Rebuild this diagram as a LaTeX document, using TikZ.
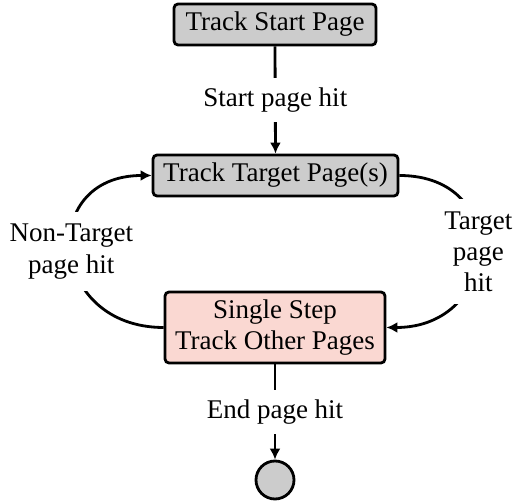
\documentclass[tikz,border=0pt]{standalone}
\usepackage{fontspec}
\setmainfont{Liberation Serif}
\usetikzlibrary{arrows.meta}
\definecolor{boxgray}{RGB}{204,204,204}
\definecolor{boxpink}{RGB}{250,216,210}
\begin{document}
\begin{tikzpicture}[x=0.5pt,y=-0.5pt,
  font=\fontsize{13.5}{15.6}\selectfont,
  statebox/.style={draw=black,line width=1.4pt,rounded corners=2pt,align=center,inner sep=0pt},
  conn/.style={line width=1.4pt,-{Latex[length=5.5pt,width=5.5pt]}},
  lbl/.style={fill=white,align=center,inner sep=2pt}]
\useasboundingbox (0,0) rectangle (515,501);
\node[statebox,fill=boxgray,minimum width=101pt,minimum height=20.5pt] (start) at (275,24.5) {Track Start Page};
\node[statebox,fill=boxgray,minimum width=122.5pt,minimum height=20.5pt] (target) at (275.5,175.5) {Track Target Page(s)};
\node[statebox,fill=boxpink,minimum width=110pt,minimum height=35.5pt] (other) at (275,327.5) {Single Step\\Track Other Pages};
\node[circle,draw=black,line width=1.4pt,fill=boxgray,minimum size=19pt,inner sep=0pt] (end) at (275,480) {};
\draw[conn] (start.south) -- node[lbl,inner ysep=5pt] {Start page hit} (target.north);
\draw[conn] (other.south) -- node[lbl,inner ysep=5pt] {End page hit} (end.north);
\draw[conn] (target.east) .. controls +(114,0) and +(114,0) .. node[lbl,inner ysep=6pt] {Target\\page\\hit} (other.east);
\draw[conn] (other.west) .. controls +(-115,0) and +(-115,0) .. node[lbl,inner ysep=6pt] {Non-Target\\page hit} (target.west);
\end{tikzpicture}
\end{document}
